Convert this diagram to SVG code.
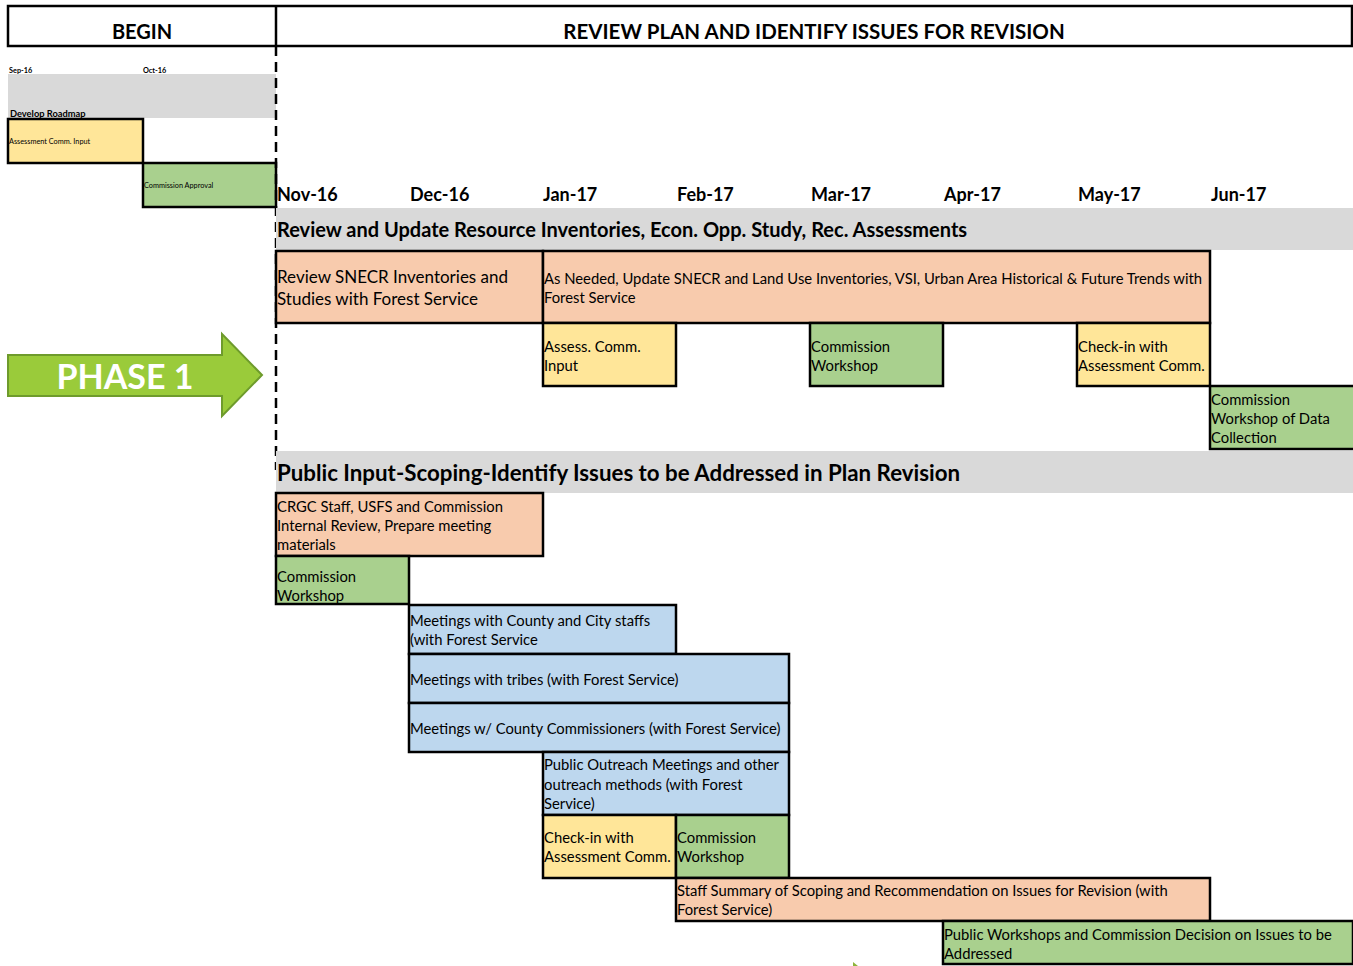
<svg xmlns="http://www.w3.org/2000/svg" width="1353" height="966" viewBox="0 0 1353 966">
<style>
text{font-family:Lato,"Open Sans","Liberation Sans",sans-serif;fill:#000}
.b{font-weight:bold}
.box{stroke:#000;stroke-width:2.5}
.or{fill:#F8CBAD}.ye{fill:#FFE699}.gr{fill:#A9D08E}.bl{fill:#BDD7EE}.band{fill:#D9D9D9}
.t{font-size:14.8px}
.m{font-size:18px;font-weight:bold}
.s{font-size:7.3px}
</style>
<rect width="1353" height="966" fill="#fff"/>
<g id="header">
<rect x="8" y="6" width="1344" height="40" fill="#fff" stroke="#000" stroke-width="2.5"/>
<line x1="276" y1="6" x2="276" y2="46" stroke="#000" stroke-width="2.5"/>
<text x="142" y="39" class="b" font-size="20" text-anchor="middle">BEGIN</text>
<text x="814" y="39" class="b" font-size="20.5" text-anchor="middle">REVIEW PLAN AND IDENTIFY ISSUES FOR REVISION</text>
</g>
<g id="begin">
<text x="9" y="73" class="s b">Sep-16</text>
<text x="143" y="73" class="s b">Oct-16</text>
<rect class="band" x="8" y="74" width="268" height="44"/>
<text x="10" y="117" class="b" font-size="9.3">Develop Roadmap</text>
</g>
<g id="n-assess-input"><rect class="box ye" x="8" y="119" width="135" height="44"/><text x="9" y="144" class="s">Assessment Comm. Input</text></g>
<g id="n-comm-approval"><rect class="box gr" x="143" y="163" width="133" height="44"/><text x="144" y="188" class="s">Commission Approval</text></g>
<g id="divider"><line x1="276" y1="46" x2="276" y2="470" stroke="#000" stroke-width="2.5" stroke-dasharray="10,6"/></g>
<g id="months">
<text x="277" y="201" class="m">Nov-16</text>
<text x="410" y="201" class="m">Dec-16</text>
<text x="543" y="201" class="m">Jan-17</text>
<text x="677" y="201" class="m">Feb-17</text>
<text x="811" y="201" class="m">Mar-17</text>
<text x="944" y="201" class="m">Apr-17</text>
<text x="1078" y="201" class="m">May-17</text>
<text x="1211" y="201" class="m">Jun-17</text>
</g>
<g id="band1"><rect class="band" x="276" y="208" width="1077" height="42"/><text x="277" y="237" class="b" font-size="20">Review and Update Resource Inventories, Econ. Opp. Study, Rec. Assessments</text></g>
<g id="n-review-snecr"><rect class="box or" x="276" y="251" width="267" height="72"/><text x="277" y="283" font-size="17">Review SNECR Inventories and</text><text x="277" y="305" font-size="17">Studies with Forest Service</text></g>
<g id="n-as-needed"><rect class="box or" x="543" y="251" width="667" height="72"/><text x="544" y="284" class="t">As Needed, Update SNECR and Land Use Inventories, VSI, Urban Area Historical &amp; Future Trends with</text><text x="544" y="303" class="t">Forest Service</text></g>
<g id="n-assess-comm"><rect class="box ye" x="543" y="323" width="133" height="63"/><text x="544" y="352" class="t">Assess. Comm.</text><text x="544" y="371" class="t">Input</text></g>
<g id="n-comm-ws1"><rect class="box gr" x="810" y="323" width="133" height="63"/><text x="811" y="352" class="t">Commission</text><text x="811" y="371" class="t">Workshop</text></g>
<g id="n-checkin1"><rect class="box ye" x="1077" y="323" width="133" height="63"/><text x="1078" y="352" class="t">Check-in with</text><text x="1078" y="371" class="t">Assessment Comm.</text></g>
<g id="n-comm-ws-data"><rect class="box gr" x="1210" y="386" width="145" height="63"/><text x="1211" y="405" class="t">Commission</text><text x="1211" y="424" class="t">Workshop of Data</text><text x="1211" y="443" class="t">Collection</text></g>
<g id="phase1">
<polygon points="8,355 222,355 222,334 262,375 222,416 222,396 8,396" fill="#9ACB3A" stroke="#6E9B2C" stroke-width="2"/>
<text x="125" y="389" font-size="34" font-weight="bold" text-anchor="middle" style="fill:#fff">PHASE 1</text>
</g>
<g id="band2"><rect class="band" x="276" y="451" width="1077" height="42"/><text x="277" y="481" class="b" font-size="22.3">Public Input-Scoping-Identify Issues to be Addressed in Plan Revision</text></g>
<g id="n-crgc"><rect class="box or" x="276" y="493" width="267" height="63"/><text x="277" y="512" class="t">CRGC Staff, USFS and Commission</text><text x="277" y="531" class="t">Internal Review, Prepare meeting</text><text x="277" y="550" class="t">materials</text></g>
<g id="n-comm-ws2"><rect class="box gr" x="276" y="556" width="133" height="48"/><text x="277" y="582" class="t">Commission</text><text x="277" y="601" class="t">Workshop</text></g>
<g id="n-county-city"><rect class="box bl" x="409" y="605" width="267" height="49"/><text x="410" y="626" class="t">Meetings with County and City staffs</text><text x="410" y="645" class="t">(with Forest Service</text></g>
<g id="n-tribes"><rect class="box bl" x="409" y="654" width="380" height="49"/><text x="410" y="685" class="t">Meetings with tribes (with Forest Service)</text></g>
<g id="n-commissioners"><rect class="box bl" x="409" y="703" width="380" height="49"/><text x="410" y="734" class="t">Meetings w/ County Commissioners (with Forest Service)</text></g>
<g id="n-outreach"><rect class="box bl" x="543" y="752" width="246" height="63"/><text x="544" y="770" class="t">Public Outreach Meetings and other</text><text x="544" y="790" class="t">outreach methods (with Forest</text><text x="544" y="809" class="t">Service)</text></g>
<g id="n-checkin2"><rect class="box ye" x="543" y="815" width="133" height="63"/><text x="544" y="843" class="t">Check-in with</text><text x="544" y="862" class="t">Assessment Comm.</text></g>
<g id="n-comm-ws3"><rect class="box gr" x="676" y="815" width="113" height="63"/><text x="677" y="843" class="t">Commission</text><text x="677" y="862" class="t">Workshop</text></g>
<g id="n-staff-summary"><rect class="box or" x="676" y="878" width="534" height="43"/><text x="677" y="896" class="t">Staff Summary of Scoping and Recommendation on Issues for Revision (with</text><text x="677" y="915" class="t">Forest Service)</text></g>
<g id="n-public-ws"><rect class="box gr" x="943" y="921" width="410" height="43"/><text x="944" y="940" class="t">Public Workshops and Commission Decision on Issues to be</text><text x="944" y="959" class="t">Addressed</text></g>
<g id="connectors"><polygon points="853,962 853,966 858,966" fill="#8DB43A"/></g>
</svg>
